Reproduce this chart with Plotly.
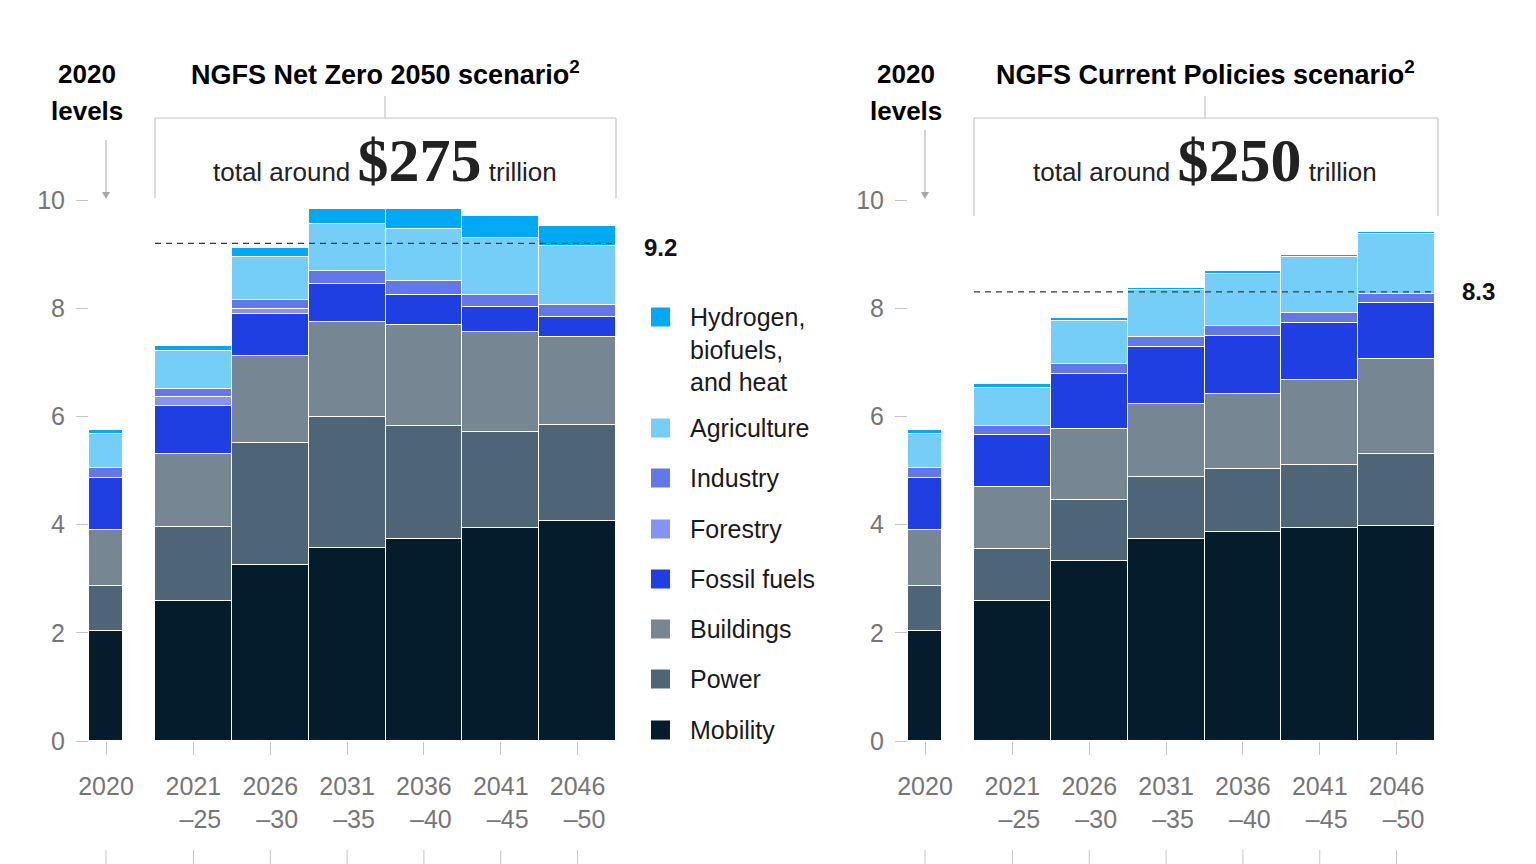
import plotly.graph_objects as go

W, H = 1536, 864

# ---------------- data ----------------
sectors = ["Mobility", "Power", "Buildings", "Fossil fuels", "Forestry",
           "Industry", "Agriculture", "Hydrogen, biofuels, and heat"]
colors = ["#051C2C", "#4E6577", "#768692", "#203FE3", "#8594EE",
          "#6277E8", "#74CEF7", "#00A9F4"]
legend_labels = ["Hydrogen,<br>biofuels,<br>and heat", "Agriculture", "Industry",
                 "Forestry", "Fossil fuels", "Buildings", "Power", "Mobility"]

base_label = ["2020"]
periods = ["2021<br>\u00a0\u00a0–25", "2026<br>\u00a0\u00a0–30", "2031<br>\u00a0\u00a0–35",
           "2036<br>\u00a0\u00a0–40", "2041<br>\u00a0\u00a0–45", "2046<br>\u00a0\u00a0–50"]

# 2020 levels, in sector order (mobility ... hydrogen), $ trillion
levels_2020 = [2.04, 0.83, 1.03, 0.97, 0.0, 0.18, 0.63, 0.07]

# NGFS Net Zero 2050 scenario
nz_mobility = [2.58, 3.26, 3.57, 3.74, 3.93, 4.07]
nz_power = [1.38, 2.25, 2.41, 2.08, 1.78, 1.77]
nz_buildings = [1.35, 1.60, 1.77, 1.87, 1.85, 1.63]
nz_fossil = [0.89, 0.79, 0.69, 0.56, 0.46, 0.36]
nz_forestry = [0.15, 0.09, 0.0, 0.0, 0.0, 0.0]
nz_industry = [0.16, 0.17, 0.24, 0.26, 0.23, 0.22]
nz_agriculture = [0.70, 0.79, 0.88, 0.96, 1.04, 1.10]
nz_hydrogen = [0.09, 0.17, 0.27, 0.37, 0.41, 0.37]
nz_average = 9.2

# NGFS Current Policies scenario
cp_mobility = [2.59, 3.33, 3.74, 3.87, 3.94, 3.98]
cp_power = [0.95, 1.13, 1.14, 1.15, 1.16, 1.33]
cp_buildings = [1.16, 1.30, 1.35, 1.40, 1.57, 1.76]
cp_fossil = [0.96, 1.03, 1.05, 1.07, 1.06, 1.03]
cp_forestry = [0.0, 0.0, 0.0, 0.0, 0.0, 0.0]
cp_industry = [0.17, 0.17, 0.19, 0.18, 0.18, 0.17]
cp_agriculture = [0.70, 0.80, 0.87, 0.96, 1.04, 1.10]
cp_hydrogen = [0.06, 0.05, 0.04, 0.05, 0.04, 0.04]
cp_average = 8.3

nz_series = [nz_mobility, nz_power, nz_buildings, nz_fossil, nz_forestry,
             nz_industry, nz_agriculture, nz_hydrogen]
cp_series = [cp_mobility, cp_power, cp_buildings, cp_fossil, cp_forestry,
             cp_industry, cp_agriculture, cp_hydrogen]

y_ticks = [0, 2, 4, 6, 8, 10]

# ---------------- helpers (layout only) ----------------
OFF = 8  # page body margin in the browser


def px(x):
    return (x - OFF) / W


def py(y):
    return 1 - (y - OFF) / H


SANS = "Liberation Sans"
SERIF = "Liberation Serif"
TICK_GRAY = "#767676"
LINE_GRAY = "#c4c4c4"

fig = go.Figure()

panels = [
    ("x", "y", base_label, [[v] for v in levels_2020]),
    ("x2", "y2", periods, nz_series),
    ("x3", "y3", base_label, [[v] for v in levels_2020]),
    ("x4", "y4", periods, cp_series),
]
for xa, ya, cats, series in panels:
    for name, col, vals in zip(sectors, colors, series):
        fig.add_trace(go.Bar(
            x=cats, y=vals, name=name, xaxis=xa, yaxis=ya,
            marker=dict(color=col, line=dict(color="white", width=1)),
            showlegend=False, hoverinfo="name+y",
        ))

ydom = [py(741), py(200)]
xdoms = [[px(89), px(123)], [px(155), px(616)],
         [px(908), px(942)], [px(974), px(1435)]]

xcommon = dict(showgrid=False, zeroline=False, showline=False, ticks="outside",
               ticklen=13, tickwidth=1, tickcolor=LINE_GRAY, automargin=False,
               tickfont=dict(family=SANS, size=25, color=TICK_GRAY),
               ticklabelstandoff=10, fixedrange=True, type="category")
ycommon = dict(range=[0, 10], domain=ydom, showgrid=False, zeroline=False,
               showline=False, fixedrange=True, automargin=False)

layout = dict(
    width=W, height=H,
    margin=dict(l=0, r=0, t=0, b=0, pad=0, autoexpand=False),
    template="none",
    paper_bgcolor="white", plot_bgcolor="white",
    barmode="stack", bargap=0, showlegend=False,
)
for i, dom in enumerate(xdoms):
    k = "" if i == 0 else str(i + 1)
    rng = [-0.5, 0.5] if i in (0, 2) else [-0.5, 5.5]
    layout["xaxis" + k] = dict(xcommon, domain=dom, range=rng, anchor="y" + k)
    if i in (0, 2):
        layout["yaxis" + k] = dict(ycommon, anchor="x" + k, tickvals=y_ticks,
                                   ticks="outside", ticklen=12, tickcolor=LINE_GRAY,
                                   tickfont=dict(family=SANS, size=25, color=TICK_GRAY),
                                   ticklabelstandoff=6)
    else:
        layout["yaxis" + k] = dict(ycommon, anchor="x" + k, showticklabels=False, ticks="")
fig.update_layout(**layout)

shapes = []
annotations = []


def note(x, y, text, size, color="#000", family=SANS, xanchor="center", yanchor="middle", **kw):
    d = dict(xref="paper", yref="paper", x=x, y=y, text=text, showarrow=False,
             xanchor=xanchor, yanchor=yanchor,
             font=dict(family=family, size=size, color=color))
    d.update(kw)
    annotations.append(d)


def line(x0, y0, x1, y1, color=LINE_GRAY, width=1.2):
    shapes.append(dict(type="line", xref="paper", yref="paper",
                       x0=px(x0), x1=px(x1), y0=py(y0), y1=py(y1),
                       line=dict(color=color, width=width)))


# average dashed lines
for xa, ya, avg in [("x2", "y2", nz_average), ("x4", "y4", cp_average)]:
    shapes.append(dict(type="line", xref=xa, yref=ya, x0=-0.5, x1=5.5, y0=avg, y1=avg,
                       line=dict(color="#3a3a3a", width=1.3, dash="6px,5px")))
note(px(660), nz_average, "<b>%.1f</b>" % nz_average, 24, "#111", yref="y2", yshift=-4)
note(px(1478), cp_average, "<b>%.1f</b>" % cp_average, 24, "#111", yref="y4")

# headers, brackets, totals
for cx, title, total, xl, xr, ybot, lvl_x, arrow_top in [
        (385, "NGFS Net Zero 2050 scenario", "$275", 155, 616, 198, 87, 140),
        (1205, "NGFS Current Policies scenario", "$250", 974, 1438, 216, 906, 130)]:
    note(px(cx), py(73), "<b>%s<sup>2</sup></b>" % title, 27)
    note(px(lvl_x), py(74), "<b>2020</b>", 26)
    note(px(lvl_x), py(111), "<b>levels</b>", 26)
    note(px(cx), py(160),
         ("total around <span style='font-family:%s;font-size:62px'>"
          "<b>%s</b></span> trillion") % (SERIF, total), 26, "#222")
    line(cx, 96, cx, 118)
    line(xl, 118, xr, 118)
    line(xl, 118, xl, ybot)
    line(xr, 118, xr, ybot)
    # arrow under "levels"
    ax = lvl_x + 19
    line(ax, arrow_top, ax, 194, color="#a8a8a8", width=1)
    shapes.append(dict(type="path", xref="paper", yref="paper",
                       path="M %f,%f L %f,%f L %f,%f Z" % (
                           px(ax - 4), py(192), px(ax + 4), py(192), px(ax), py(199)),
                       fillcolor="#a8a8a8", line=dict(width=0)))

# bottom guide lines under tick labels
for xa, cats in [("x", base_label), ("x2", periods), ("x3", base_label), ("x4", periods)]:
    for c in range(len(cats)):
        shapes.append(dict(type="line", xref=xa, yref="paper", x0=c, x1=c,
                           y0=py(864), y1=py(850), line=dict(color=LINE_GRAY, width=1)))

# manual legend
legend_y = [317, 428, 478, 529, 579, 629, 679, 730]
for lab, col, yc in zip(legend_labels, colors[::-1], legend_y):
    shapes.append(dict(type="rect", xref="paper", yref="paper",
                       x0=px(651), x1=px(670), y0=py(yc + 9.5), y1=py(yc - 9.5),
                       fillcolor=col, line=dict(width=0)))
    note(px(688), py(yc - 16), lab, 25, "#1a1a1a", xanchor="left", yanchor="top",
         align="left")

fig.update_layout(shapes=shapes, annotations=annotations)
fig.write_html("out.html")
